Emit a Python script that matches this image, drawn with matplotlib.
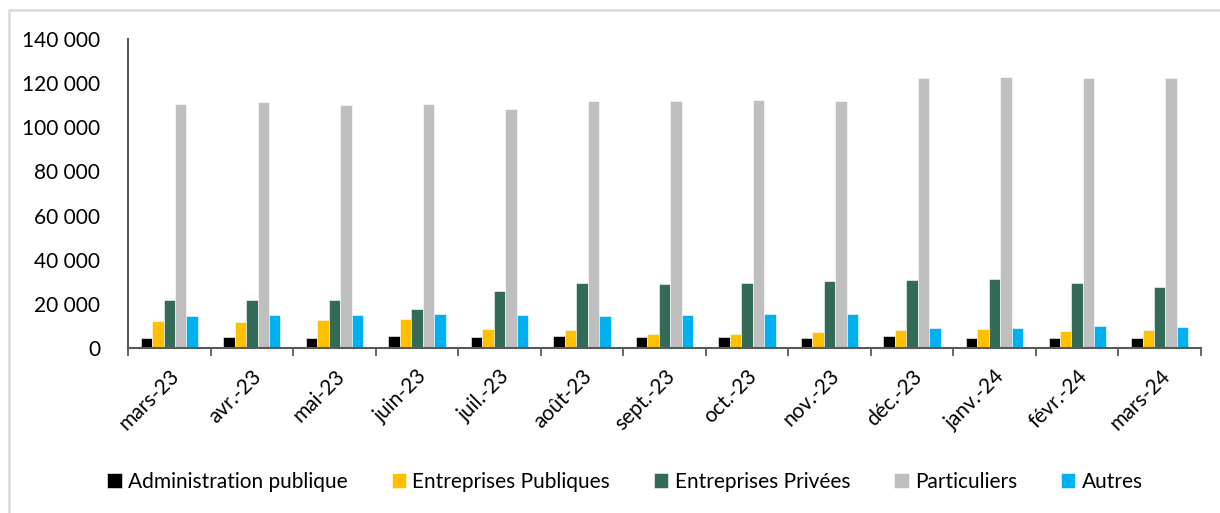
import matplotlib.pyplot as plt
from matplotlib.patches import Rectangle
from matplotlib.ticker import FuncFormatter, FixedLocator
import numpy as np

plt.rcParams['font.family'] = ['Lato', 'DejaVu Sans']

months = ["mars-23", "avr.-23", "mai-23", "juin-23", "juil.-23", "août-23", "sept.-23",
          "oct.-23", "nov.-23", "déc.-23", "janv.-24", "févr.-24", "mars-24"]

admin_publique = [4350, 5000, 4350, 5400, 5100, 5600, 5100, 5100, 4350, 5400, 4700, 4500, 4350]
entreprises_publiques = [12100, 11800, 12500, 13000, 8450, 8300, 6500, 6500, 7100, 8300, 8450, 7500, 8000]
entreprises_privees = [21900, 21900, 21800, 17800, 25700, 29300, 29000, 29600, 30200, 31000, 31400, 29300, 27800]
particuliers = [110700, 111600, 110000, 110700, 108400, 111700, 111700, 112200, 112000, 122400, 123000, 122300, 122300]
autres = [14500, 15000, 15000, 15200, 15000, 14650, 15000, 15600, 15600, 9200, 9200, 9800, 9700]

series = [
    ("Administration publique", admin_publique, "#000000"),
    ("Entreprises Publiques", entreprises_publiques, "#FFC000"),
    ("Entreprises Privées", entreprises_privees, "#336B58"),
    ("Particuliers", particuliers, "#BFBFBF"),
    ("Autres", autres, "#00B0F0"),
]

fig = plt.figure(figsize=(12.2, 5.13), dpi=100)
ax = fig.add_axes([128 / 1220, 1 - 348 / 513, (1201 - 128) / 1220, (348 - 39) / 513])

# light grey chart-area frame
fig.patches.append(Rectangle((9 / 1220, -0.05), 1.1, 1 - 10 / 513 + 0.05,
                             transform=fig.transFigure, fill=False,
                             edgecolor="#D9D9D9", linewidth=1.8))

x = np.arange(len(months))
w = 0.139
for i, (name, vals, col) in enumerate(series):
    ax.bar(x + (i - 2) * w, vals, width=w, color=col, label=name,
           edgecolor="#FFFFFF", linewidth=0.4)

ax.set_xlim(-0.5, len(months) - 0.5)
ax.set_ylim(0, 140000)
ax.set_yticks(np.arange(0, 140001, 20000))
ax.yaxis.set_major_formatter(FuncFormatter(lambda v, p: f"{int(v):,}".replace(",", " ")))
ax.tick_params(axis="y", length=0, pad=20, labelsize=15)

# tick marks between categories, labels centred under them
ax.xaxis.set_major_locator(FixedLocator(np.arange(-0.5, len(months), 1.0)))
ax.xaxis.set_major_formatter(FuncFormatter(lambda v, p: ""))
ax.set_xticks(x, minor=True)
ax.set_xticklabels(months, minor=True, rotation=45, ha="right", va="top",
                   rotation_mode="anchor", fontsize=15)
ax.tick_params(axis="x", which="major", length=6, width=1.3, color="#595959", direction="out")
ax.tick_params(axis="x", which="minor", length=0, pad=13)

for s in ["top", "right"]:
    ax.spines[s].set_visible(False)
for s in ["left", "bottom"]:
    ax.spines[s].set_color("#595959")
    ax.spines[s].set_linewidth(1.5)

fig.legend(loc="center", bbox_to_anchor=(625 / 1220, 1 - 482 / 513), ncol=5,
           frameon=False, fontsize=15, handlelength=0.7, handleheight=0.7,
           handletextpad=0.3, columnspacing=2.1, borderaxespad=0)

fig.savefig("out.png", dpi=100)
